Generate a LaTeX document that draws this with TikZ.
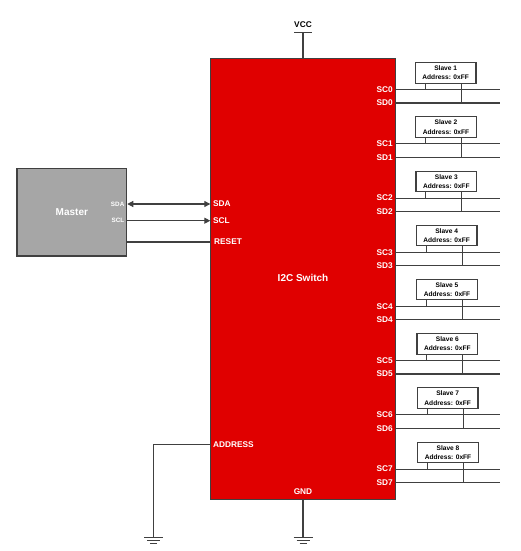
\documentclass[tikz,border=0pt]{standalone}
\usepackage{xcolor}
\usepackage{fontspec}
\setmainfont{Liberation Sans}
\usetikzlibrary{arrows.meta, positioning, calc}
\definecolor{switchred}{RGB}{224,0,0}
\definecolor{mastergray}{RGB}{166,166,166}
\definecolor{wiregray}{RGB}{64,64,64}
\tikzset{every node/.append style={align=center}}
\tikzset{
  swbox/.style={rectangle, draw=wiregray, fill=switchred, line width=1.1pt, inner sep=0pt,
    minimum width=184.7pt, minimum height=440.6pt, text=white, font=\bfseries\fontsize{10}{12}\selectfont},
  mbox/.style={rectangle, draw=wiregray, fill=mastergray, line width=1.1pt, inner sep=0pt,
    minimum width=109.7pt, minimum height=87.7pt, text=white, font=\bfseries\fontsize{10}{12}\selectfont},
  slv/.style={rectangle, draw=wiregray, fill=white, line width=1.1pt, inner sep=0pt,
    minimum width=60.7pt, minimum height=20.4pt, font=\bfseries\fontsize{6.6}{9.2}\selectfont},
  pin/.style={inner sep=0pt, text=white, font=\bfseries\fontsize{8.3}{10}\selectfont},
  mpin/.style={inner sep=0pt, text=white, font=\bfseries\fontsize{6.3}{8}\selectfont},
  rail/.style={font=\bfseries\fontsize{8.3}{10}\selectfont, inner sep=0pt},
  wire/.style={draw=wiregray, line width=1.1pt},
  arrow/.style={wire, -{Stealth[length=6pt,width=6pt,inset=0pt]}},
  biarrow/.style={wire, {Stealth[length=6pt,width=6pt,inset=0pt]}-{Stealth[length=6pt,width=6pt,inset=0pt]}}
}
\begin{document}
\begin{tikzpicture}[x=1pt, y=-1pt]
  \useasboundingbox (0,0) rectangle (520,551);
  % switch and master
  \node[swbox] (sw) at (303.2,279) {};
  \node[pin, font=\bfseries\fontsize{10}{12}\selectfont] (swname) at (303,278) {I2C Switch};
  \node[mbox] (master) at (71.85,212.15) {Master};
  % master side
  \node[pin, anchor=west] (sda) at (213,204) {SDA};
  \node[pin, anchor=west] (scl) at (213,220.7) {SCL};
  \node[pin, anchor=west] (reset) at (214,242) {RESET};
  \node[pin, anchor=west] (address) at (213,444.3) {ADDRESS};
  \node[mpin, anchor=east] (msda) at (124.5,204) {SDA};
  \node[mpin, anchor=east] (mscl) at (124.5,220.7) {SCL};
  \draw[biarrow] (master.east |- sda) -- (sw.west |- sda);
  \draw[arrow] (master.east |- scl) -- (sw.west |- scl);
  \draw[wire] (master.east |- reset) -- (sw.west |- reset);
  % power
  \node[rail] (vcc) at (303,24.7) {VCC};
  \node[pin] (gnd) at (303,492) {GND};
  \coordinate (vcctop) at (303,32.7);
  \draw[wire] (vcctop) -- (vcctop |- sw.north);
  \draw[wire] ($(vcctop)+(-9,0)$) -- ($(vcctop)+(9,0)$);
  \coordinate (gnda) at (153.7,537.3);
  \coordinate (gndb) at (303,537.3);
  \draw[wire] (sw.west |- address) -| (gnda);
  \draw[wire] (gndb |- sw.south) -- (gndb);
  \foreach \g in {gnda,gndb} {
    \draw[wire] ($(\g)+(-9.5,0)$) -- ($(\g)+(9.5,0)$);
    \draw[wire] ($(\g)+(-6.5,3.2)$) -- ($(\g)+(6.5,3.2)$);
    \draw[wire] ($(\g)+(-3.5,6.4)$) -- ($(\g)+(3.5,6.4)$);
  }
  % slaves
  \foreach \i [evaluate=\i as \n using int(\i+1), evaluate=\i as \yy using 72.85+54.2*\i, evaluate=\i as \xx using 445.65+0.34*\i] in {0,...,7} {
    \node[slv] (slave\i) at (\xx,\yy) {Slave \n\\Address: 0xFF};
    \node[pin, anchor=east] (sc\i) at (393,\yy+16.8) {SC\i};
    \node[pin, anchor=east] (sd\i) at (393,\yy+30.1) {SD\i};
    \coordinate (scend\i) at (499.7,\yy+16.8);
    \coordinate (sdend\i) at (499.7,\yy+30.1);
    \draw[wire] (sw.east |- sc\i) -- (scend\i);
    \draw[wire] (sw.east |- sd\i) -- (sdend\i);
    \draw[wire] ($(slave\i.south west)+(10.3,0)$) -- ($(slave\i.south west)+(10.3,16.8-10.2)$);
    \draw[wire] ($(slave\i.south west)+(46.3,0)$) -- ($(slave\i.south west)+(46.3,30.1-10.2)$);
  }
\end{tikzpicture}
\end{document}
